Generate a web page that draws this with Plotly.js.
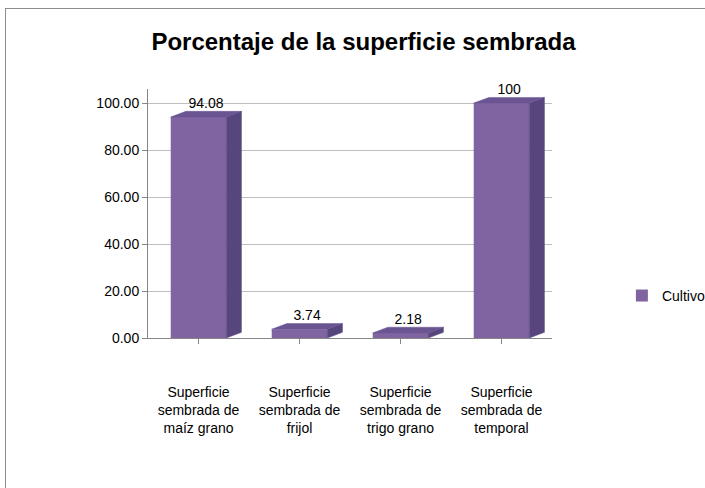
<!DOCTYPE html>
<html>
<head>
<meta charset="utf-8">
<script src="https://cdn.plot.ly/plotly-3.0.1.min.js"></script>
<style>
  html, body { margin: 0; padding: 0; background: #ffffff; overflow: hidden; }
  #frame { position: absolute; left: 5px; top: 8px; width: 720px; height: 500px; border: 1px solid #8c8c8c; box-sizing: border-box; pointer-events: none; z-index: 5; }
  #chart { position: absolute; left: 0; top: 0; width: 705px; height: 488px; }
</style>
</head>
<body>
<div id="chart"></div>
<div id="frame"></div>
<script>
// ---- data ----
const categories = [
  'Superficie<br>sembrada de<br>maíz grano',
  'Superficie<br>sembrada de<br>frijol',
  'Superficie<br>sembrada de<br>trigo grano',
  'Superficie<br>sembrada de<br>temporal'
];
const values = [94.08, 3.74, 2.18, 100];
const valueLabels = ['94.08', '3.74', '2.18', '100'];
const seriesName = 'Cultivo';
const yTickValues = [0, 20, 40, 60, 80, 100];

// ---- style ----
const frontColor = '#8064A2';
const sideColor = '#57457D';
const topColor = '#6A5492';
const barWidth = 0.55;
const depthX = 0.15;   // pseudo-depth in category units
const depthY = 2.4;    // pseudo-depth in value units
const fontFam = '"Liberation Sans", Arial, sans-serif';

const idx = categories.map((c, i) => i);

// pseudo 3D faces derived from the values
const sideX = [], sideY = [], topX = [], topY = [];
idx.forEach(i => {
  const v = values[i];
  const r = i + barWidth / 2, l = i - barWidth / 2;
  sideX.push(r, r + depthX, r + depthX, r, r, null);
  sideY.push(0, depthY, v + depthY, v, 0, null);
  topX.push(l, l + depthX, r + depthX, r, l, null);
  topY.push(v, v + depthY, v + depthY, v, v, null);
});

const traces = [
  {
    type: 'bar', x: idx, y: values, name: seriesName, width: barWidth,
    marker: { color: frontColor, line: { width: 0 } },
    hoverinfo: 'skip', showlegend: true
  },
  {
    type: 'scatter', mode: 'lines', x: sideX, y: sideY, fill: 'toself',
    fillcolor: sideColor, line: { color: sideColor, width: 0.5 },
    hoverinfo: 'skip', showlegend: false
  },
  {
    type: 'scatter', mode: 'lines', x: topX, y: topY, fill: 'toself',
    fillcolor: topColor, line: { color: topColor, width: 0.5 },
    hoverinfo: 'skip', showlegend: false
  },
  {
    type: 'scatter', mode: 'text',
    x: idx.map(i => i + depthX / 2), y: values.map(v => v + depthY),
    text: valueLabels, textposition: 'top center', cliponaxis: false,
    textfont: { family: fontFam, size: 14, color: '#000000' },
    hoverinfo: 'skip', showlegend: false
  }
];

const layout = {
  width: 705, height: 488,
  margin: { l: 148, r: 153, t: 89, b: 150, autoexpand: false },
  paper_bgcolor: '#ffffff', plot_bgcolor: '#ffffff',
  font: { family: fontFam, size: 14, color: '#000000' },
  title: {
    text: '<b>Porcentaje de la superficie sembrada</b>',
    font: { family: fontFam, size: 24, color: '#000000' },
    x: 0.5156, xref: 'container', xanchor: 'center',
    y: 0.915, yref: 'container', yanchor: 'middle'
  },
  xaxis: {
    range: [-0.5, 3.5], tickvals: idx, ticktext: categories,
    showline: true, linecolor: '#868686', linewidth: 1,
    ticks: 'outside', tickson: 'boundaries', ticklen: 5, tickcolor: '#868686',
    showgrid: false, zeroline: false, fixedrange: true,
    ticklabelstandoff: 36,
    tickfont: { family: fontFam, size: 14, color: '#000000' }
  },
  yaxis: {
    range: [0, 106], tickvals: yTickValues, tickformat: '.2f',
    showline: true, linecolor: '#868686', linewidth: 1,
    ticks: 'outside', ticklen: 5, tickcolor: '#868686',
    showgrid: true, gridcolor: '#BFBFBF', gridwidth: 1,
    zeroline: false, fixedrange: true,
    tickfont: { family: fontFam, size: 14, color: '#000000' }
  },
  showlegend: true,
  legend: {
    x: 1.173, xanchor: 'left', y: 0.169, yanchor: 'middle',
    font: { family: fontFam, size: 14, color: '#000000' },
    itemwidth: 30, bgcolor: 'rgba(0,0,0,0)'
  },
  bargap: 0.45
};

Plotly.newPlot('chart', traces, layout, { staticPlot: true, displayModeBar: false });
</script>
</body>
</html>
